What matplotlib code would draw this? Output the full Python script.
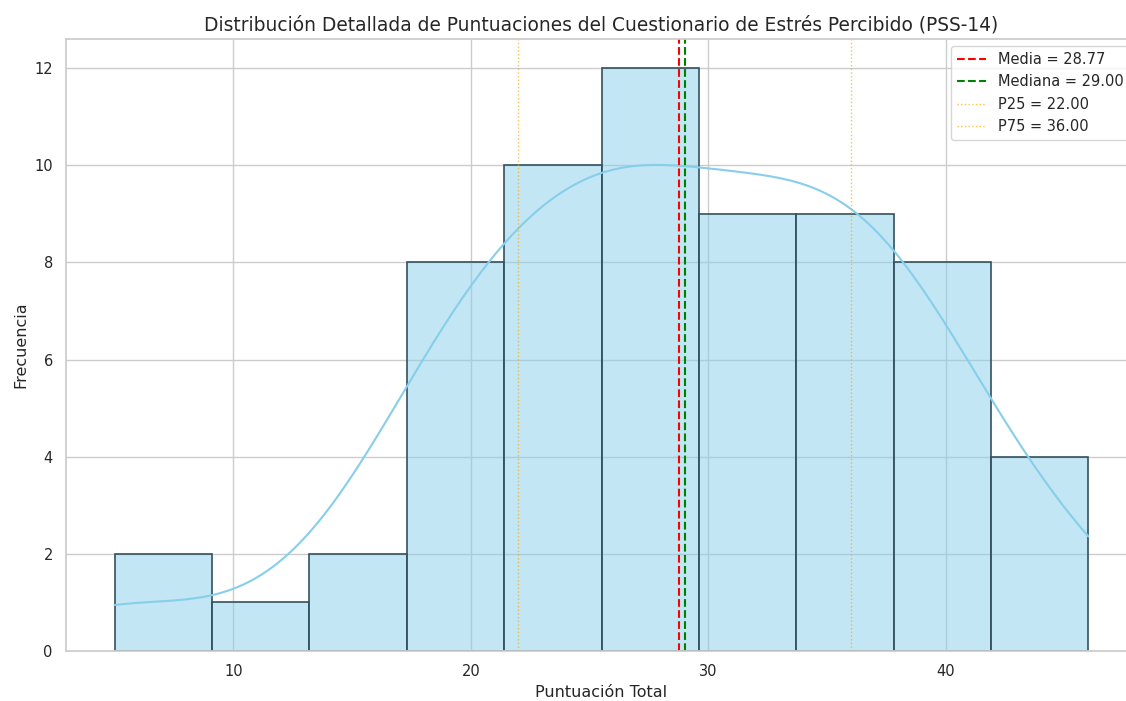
import numpy as np
import matplotlib.pyplot as plt
import seaborn as sns

# PSS-14 total scores (n = 65), read back from the histogram bins and summary lines
scores = [
    5, 5,
    12,
    15, 17,
    18, 18, 18, 19, 19, 20, 20, 21,
    22, 22, 22, 22, 23, 24, 24, 24, 25, 25,
    26, 26, 26, 27, 27, 27, 28, 28, 28, 29, 29, 29,
    30, 31, 32, 32, 32, 33, 33, 33, 33,
    34, 34, 35, 35, 36, 36, 37, 37, 37,
    38, 38, 38, 39, 39, 40, 40, 41,
    42, 44, 45, 46,
]
n_bins = 10

sns.set_theme(style="whitegrid")

data = np.array(scores)
mean_v = data.mean()
median_v = np.median(data)
p25 = np.percentile(data, 25)
p75 = np.percentile(data, 75)

fig = plt.figure(figsize=(11.26, 7.01), dpi=100)
# the source image is cropped on the right, so the axes run past the figure edge
ax = fig.add_axes([66 / 1126, 1 - 651 / 701, 1071 / 1126, 612 / 701])

sns.histplot(data, bins=n_bins, kde=True, color='skyblue', edgecolor='#34505f',
             linewidth=1.2, ax=ax)

ax.axvline(mean_v, color='red', linestyle='--', linewidth=1.5, label=f'Media = {mean_v:.2f}')
ax.axvline(median_v, color='green', linestyle='--', linewidth=1.5, label=f'Mediana = {median_v:.2f}')
ax.axvline(p25, color='orange', linestyle=':', linewidth=1, alpha=0.7, label=f'P25 = {p25:.2f}')
ax.axvline(p75, color='orange', linestyle=':', linewidth=1, alpha=0.7, label=f'P75 = {p75:.2f}')

ax.set_title('Distribución Detallada de Puntuaciones del Cuestionario de Estrés Percibido (PSS-14)',
             fontsize=13.4)
ax.set_xlabel('Puntuación Total', fontsize=11.5)
ax.set_ylabel('Frecuencia', fontsize=11.5)
ax.tick_params(labelsize=10.5)
ax.legend(loc='upper right', fontsize=10.5)

plt.savefig('out.png', dpi=100)
